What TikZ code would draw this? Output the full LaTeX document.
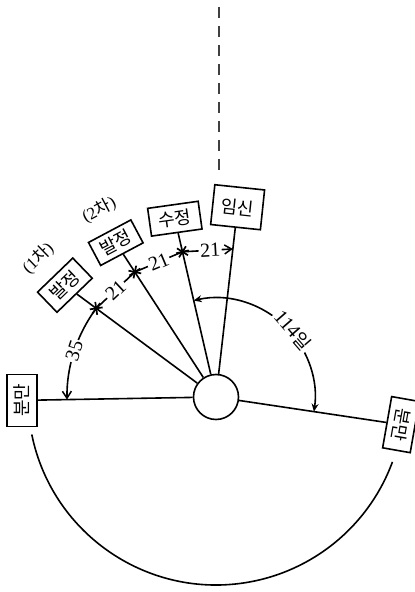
\documentclass[tikz,border=0pt]{standalone}
\usepackage{fontspec}
\setmainfont{Liberation Serif}
\newfontfamily\kr{Noto Sans CJK KR}
\usetikzlibrary{arrows.meta}
\begin{document}
\begin{tikzpicture}[x=1pt,y=1pt,line width=1.6pt, black,
  box/.style={draw, fill=white, inner sep=0pt, font=\kr\fontsize{18}{18}\selectfont},
  lbl/.style={fill=white, inner sep=1.5pt, font=\fontsize{20}{20}\selectfont},
  tag/.style={inner sep=0pt, font=\fontsize{17}{17}\selectfont},
  barb/.style={-{Straight Barb[length=7pt,width=9pt,line width=1.5pt]}},
  astmark/.pic={\foreach \a in {45,90,135} \draw[line width=1.7pt] (\a:6.5) -- (\a+180:6.5);}
]
\useasboundingbox (0,0) rectangle (415,592);
\coordinate (C) at (216,195);
\node[circle, draw, minimum size=45pt, inner sep=0pt] (hub) at (C) {};

% boxes
\node[box, rotate=90, minimum width=52pt, minimum height=30pt] (L) at ([shift={(181:194)}]C) {분만};
\node[box, rotate=44, minimum width=49pt, minimum height=28pt] (b1) at ([shift={(143.5:188)}]C) {발정};
\node[box, rotate=28, minimum width=48pt, minimum height=26pt] (b2) at ([shift={(123:184)}]C) {발정};
\node[box, rotate=8, minimum width=51pt, minimum height=28pt] (b3) at ([shift={(103:183)}]C) {수정};
\node[box, rotate=-6, minimum width=50pt, minimum height=40pt] (b4) at ([shift={(83.5:191)}]C) {임신};
\node[box, rotate=-100, minimum width=52pt, minimum height=28pt] (R) at ([shift={(-8.5:187)}]C) {분만};

% tags
\node[tag, rotate=44] (t1) at (38,334) {(1{\kr 차})};
\node[tag, rotate=28] (t2) at (99,382) {(2{\kr 차})};

% spokes
\draw (hub) -- (L);
\draw (hub) -- (b1);
\draw (hub) -- (b2);
\draw (hub) -- (b3);
\draw (hub) -- (b4);
\draw (hub) -- (R);

% stars on spokes
\coordinate (s1) at ([shift={(143.5:149)}]C);
\coordinate (s2) at ([shift={(123:149)}]C);
\coordinate (s3) at ([shift={(103:149)}]C);
\coordinate (s4) at ([shift={(83.5:149)}]C);
\pic[rotate=143.5] at (s1) {astmark};
\pic[rotate=123] at (s2) {astmark};
\pic[rotate=103] at (s3) {astmark};

% 21-day intervals
\draw (s1) -- node[lbl, sloped] (n21a) {21} (s2);
\draw (s2) -- node[lbl, sloped] (n21b) {21} (s3);
\draw[barb] (s3) -- node[lbl, sloped, pos=0.55] (n21c) {21} (s4);

% 35 days
\draw[barb] (s1) arc[start angle=143.5, end angle=181, radius=149];
\node[lbl, rotate=72] (n35) at ([shift={(162:149)}]C) {35};

% 114 days
\draw[{Stealth[length=8pt,width=7pt]}-{Stealth[length=8pt,width=7pt]}] ([shift={(103:99)}]C) arc[start angle=103, end angle=-8.5, radius=99];
\node[lbl, rotate=-49] (n114) at ([shift={(41:102)}]C) {114{\kr\fontsize{18}{18}\selectfont 일}};

% big return arc
\draw ([shift={(191.5:188)}]C) arc[start angle=191.5, end angle=339.8, radius=188];

% dashed line at top
\coordinate (d1) at (219,585);
\coordinate (d2) at (219,415);
\draw[black!75, dash pattern=on 11pt off 8pt] (d1) -- (d2);
\end{tikzpicture}
\end{document}
